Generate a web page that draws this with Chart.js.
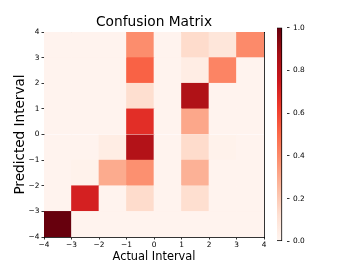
<!DOCTYPE html>
<html>
<head>
<meta charset="utf-8">
<script src="https://cdn.jsdelivr.net/npm/chart.js@4.4.1/dist/chart.umd.min.js"></script>
<style>
  html, body { margin: 0; padding: 0; background: #fff; }
  #wrap { position: relative; width: 354px; height: 266px; overflow: hidden; }
  #main { position: absolute; left: 0; top: 0; }
  #cbar { position: absolute; left: 270px; top: 0; }
</style>
</head>
<body>
<div id="wrap">
  <canvas id="main" width="310" height="266"></canvas>
  <canvas id="cbar" width="84" height="266"></canvas>
</div>
<script>
// ---- data ----
// lower edges of the actual (x) and predicted (y) interval bins
const actualLower = [-4, -3, -2, -1, 0, 1, 2, 3];
const predictedLower = [-4, -3, -2, -1, 0, 1, 2, 3];
// tick labels for the integer boundaries -4 .. 4
const tickLabels = ['\u22124', '\u22123', '\u22122', '\u22121', '0', '1', '2', '3', '4'];
const colorbarTicks = ['0.0', '0.2', '0.4', '0.6', '0.8', '1.0'];
// normalized confusion values, one array per predicted interval (columns = actual interval)
const predNeg4 = [1.00, 0.01, 0.01, 0.01, 0.01, 0.01, 0.01, 0.01];
const predNeg3 = [0.01, 0.72, 0.01, 0.14, 0.01, 0.13, 0.01, 0.01];
const predNeg2 = [0.01, 0.02, 0.30, 0.38, 0.01, 0.28, 0.01, 0.01];
const predNeg1 = [0.01, 0.01, 0.05, 0.83, 0.01, 0.14, 0.02, 0.01];
const pred0    = [0.01, 0.01, 0.01, 0.67, 0.01, 0.31, 0.01, 0.01];
const pred1    = [0.01, 0.01, 0.01, 0.13, 0.01, 0.84, 0.01, 0.01];
const pred2    = [0.01, 0.01, 0.01, 0.52, 0.01, 0.05, 0.42, 0.01];
const pred3    = [0.01, 0.01, 0.01, 0.39, 0.01, 0.14, 0.09, 0.40];
const matrixRows = [predNeg4, predNeg3, predNeg2, predNeg1, pred0, pred1, pred2, pred3];

// ---- style ----
const REDS = ['#fff5f0','#fee0d2','#fcbba1','#fc9272','#fb6a4a','#ef3b2c','#cb181d','#a50f15','#67000d'];
const FONT = "'DejaVu Sans', 'Liberation Sans', sans-serif";

function hexToRgb(h) { return [1,3,5].map(i => parseInt(h.substr(i, 2), 16)); }
function reds(v) {
  v = Math.max(0, Math.min(1, v));
  const n = REDS.length - 1;
  const p = v * n;
  const i = Math.min(n - 1, Math.floor(p));
  const t = p - i;
  const a = hexToRgb(REDS[i]), b = hexToRgb(REDS[i + 1]);
  const c = a.map((x, k) => Math.round(x + (b[k] - x) * t));
  return `rgb(${c[0]},${c[1]},${c[2]})`;
}

Chart.defaults.font.family = FONT;
Chart.defaults.color = '#000';
Chart.defaults.animation = false;

const tickFont = { family: FONT, size: 7.4 };

const datasets = matrixRows.map((row, r) => ({
  data: actualLower.map((a) => ({ x: a + 0.5, y: [predictedLower[r], predictedLower[r] + 1] })),
  backgroundColor: row.map(reds),
  borderWidth: 0,
  grouped: false,
  barPercentage: 1,
  categoryPercentage: 1
}));

const axisCommon = {
  type: 'linear', min: -4, max: 4, offset: false,
  grid: { display: true, drawOnChartArea: false, offset: false, tickLength: 2.5, tickColor: '#000', tickWidth: 0.8 },
  border: { display: true, color: '#000', width: 0.8 }
};

new Chart(document.getElementById('main'), {
  type: 'bar',
  data: { datasets },
  options: {
    responsive: false,
    animation: false,
    layout: { padding: { left: 4, right: 6, top: 0, bottom: 2 } },
    plugins: {
      legend: { display: false },
      tooltip: { enabled: false },
      title: {
        display: true, text: 'Confusion Matrix', color: '#000',
        font: { family: FONT, size: 13.75, weight: 'normal' },
        padding: { top: 14, bottom: 0 }
      }
    },
    scales: {
      x: Object.assign({}, axisCommon, {
        position: 'bottom',
        ticks: { stepSize: 1, font: tickFont, padding: 1, maxRotation: 0, autoSkip: false,
                 callback: (v) => tickLabels[v + 4] },
        title: { display: true, text: 'Actual Interval', color: '#000',
                 font: { family: FONT, size: 11.4 }, padding: { top: 0, bottom: 0 } },
        afterFit: (s) => { s.height = 27; }
      }),
      y: Object.assign({}, axisCommon, {
        position: 'left',
        ticks: { stepSize: 1, font: tickFont, padding: 2, autoSkip: false,
                 callback: (v) => tickLabels[v + 4] },
        title: { display: true, text: 'Predicted Interval', color: '#000',
                 font: { family: FONT, size: 13.6 }, padding: { top: 8, bottom: 0 } },
        afterFit: (s) => { s.width = 40; }
      }),
      x2: {
        type: 'linear', position: 'top', min: -4, max: 4,
        grid: { display: false }, ticks: { display: false },
        border: { display: true, color: '#000', width: 0.8 },
        afterFit: (s) => { s.height = 1.5; }
      },
      y2: {
        type: 'linear', position: 'right', min: -4, max: 4,
        grid: { display: false }, ticks: { display: false },
        border: { display: true, color: '#000', width: 0.8 },
        afterFit: (s) => { s.width = 40; }
      }
    }
  }
});

// ---- colorbar ----
new Chart(document.getElementById('cbar'), {
  type: 'bar',
  data: {
    labels: ['c'],
    datasets: [{
      data: [[0, 1]],
      backgroundColor: (ctx) => {
        const chart = ctx.chart;
        const area = chart.chartArea;
        if (!area) return REDS[0];
        const ys = chart.scales.y;
        const g = chart.ctx.createLinearGradient(0, ys.getPixelForValue(0), 0, ys.getPixelForValue(1));
        REDS.forEach((c, i) => g.addColorStop(i / (REDS.length - 1), c));
        return g;
      },
      borderColor: '#000',
      borderWidth: 1,
      borderSkipped: false,
      barPercentage: 1,
      categoryPercentage: 1
    }]
  },
  options: {
    responsive: false,
    animation: false,
    layout: { padding: { left: 7, right: 0, top: 27.6, bottom: 24.6 } },
    plugins: { legend: { display: false }, tooltip: { enabled: false }, title: { display: false } },
    scales: {
      x: { display: false, offset: false, grid: { offset: false } },
      y: {
        position: 'right', min: 0, max: 1,
        grid: { display: true, drawOnChartArea: false, tickLength: 2.5, tickColor: '#000', tickWidth: 0.8 },
        border: { display: false },
        ticks: { stepSize: 0.2, font: tickFont, padding: 3.5,
                 callback: (v) => colorbarTicks[Math.round(v * 5)] },
        afterFit: (s) => { s.width = 67; }
      }
    }
  }
});
</script>
</body>
</html>
